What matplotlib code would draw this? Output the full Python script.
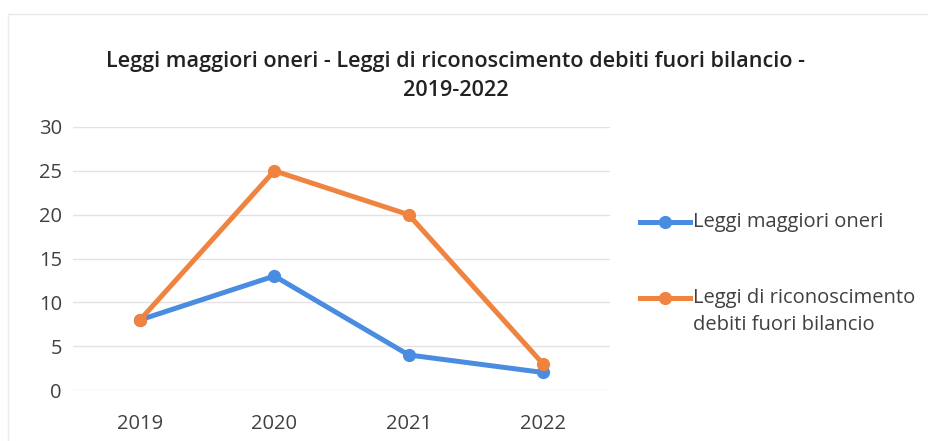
import matplotlib
matplotlib.use("Agg")
import matplotlib.pyplot as plt
from matplotlib.lines import Line2D

years = ["2019", "2020", "2021", "2022"]
maggiori_oneri = [8, 13, 4, 2]
debiti_fuori_bilancio = [8, 25, 20, 3]
yticks = [0, 5, 10, 15, 20, 25, 30]

title_line1 = "Leggi maggiori oneri - Leggi di riconoscimento debiti fuori bilancio -"
title_line2 = "2019-2022"
label1 = "Leggi maggiori oneri"
label2 = "Leggi di riconoscimento\ndebiti fuori bilancio"

blue = "#4a8de0"
orange = "#ef8340"
txt = "#404040"

plt.rcParams['font.family'] = ['Open Sans', 'DejaVu Sans']

W, H = 929, 441
fig = plt.figure(figsize=(W / 100, H / 100), dpi=100)
fig.patch.set_facecolor("white")

def fx(px):
    return px / W

def fy(py):
    return 1 - py / H

# faint chart border
fig.add_artist(Line2D([fx(8), 1.0], [fy(14), fy(14)], color="#e8e8e8", lw=1))
fig.add_artist(Line2D([fx(8), fx(8)], [0, fy(14)], color="#ececec", lw=1))

left, right, top, bottom = 73, 610, 127, 390
ax = fig.add_axes([fx(left), fy(bottom), fx(right - left), (bottom - top) / H])

x = list(range(len(years)))
ax.plot(x, maggiori_oneri, color=blue, lw=3.6, marker="o", ms=8.5, zorder=3)
ax.plot(x, debiti_fuori_bilancio, color=orange, lw=3.6, marker="o", ms=8.5, zorder=4)

ax.set_xlim(-0.5, len(years) - 0.5)
ax.set_ylim(0, 30)
ax.set_yticks(yticks)
ax.set_xticks(x)
ax.set_xticklabels(years)
ax.grid(axis="y", color="#e3e3e3", lw=1)
ax.set_axisbelow(True)
for s in ax.spines.values():
    s.set_visible(False)
ax.tick_params(axis="both", length=0, labelsize=14.5, colors=txt)
ax.tick_params(axis="x", pad=17)
ax.tick_params(axis="y", pad=8)

fig.text(fx(456), fy(62), title_line1, ha="center", va="center", fontsize=15.6,
         fontweight="semibold", color="#222222")
fig.text(fx(456), fy(90), title_line2, ha="center", va="center", fontsize=15.6,
         fontweight="semibold", color="#222222")

# legend (manual, marker aligned with first text line as in the reference)
for yy, col, lab in [(222, blue, label1), (298, orange, label2)]:
    fig.add_artist(Line2D([fx(640), fx(690)], [fy(yy), fy(yy)], color=col, lw=3.6))
    fig.add_artist(Line2D([fx(665)], [fy(yy)], color=col, marker="o", ms=8.5, lw=0))
    for i, line in enumerate(lab.split("\n")):
        fig.text(fx(693), fy(yy + 27 * i), line, ha="left", va="center",
                 fontsize=14.5, color=txt)

fig.savefig("out.png", dpi=100, facecolor="white")
